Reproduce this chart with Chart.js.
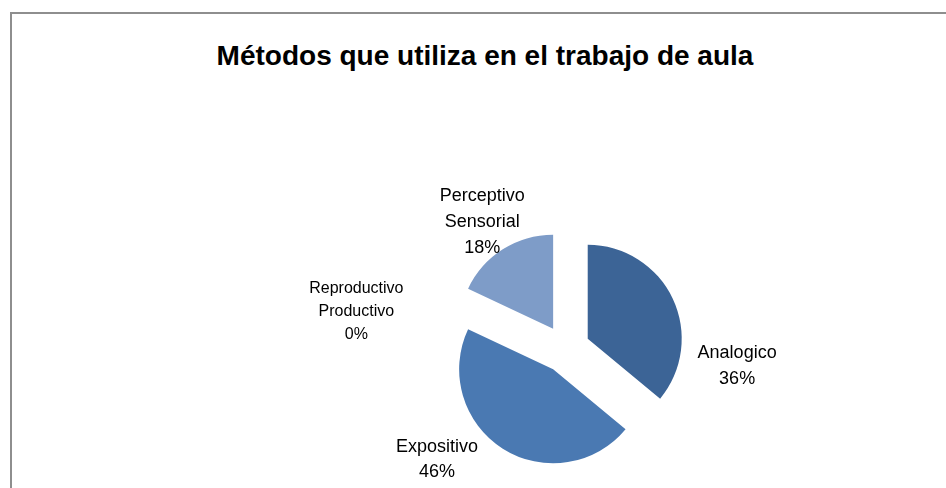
<!DOCTYPE html>
<html lang="es">
<head>
    <meta charset="UTF-8">
    <title>Métodos que utiliza en el trabajo de aula</title>
    <script src="https://cdn.jsdelivr.net/npm/chart.js@4.4.0/dist/chart.umd.min.js"></script>
    <style>
        html, body { margin: 0; padding: 0; background: #fff; }
        body { width: 946px; height: 488px; position: relative; overflow: hidden; }
        #frame {
            position: absolute; left: 10px; top: 12px; width: 980px; height: 520px;
            border-left: 2px solid #8e8e8e; border-top: 2px solid #8e8e8e;
        }
        #title {
            position: absolute; left: 10px; width: 950px; top: 40px; text-align: center;
            font-family: "Liberation Sans", Arial, sans-serif; font-weight: bold; font-size: 28px;
            color: #000;
        }
        #chart { position: absolute; left: 0; top: 0; }
    </style>
</head>
<body>
    <div id="frame"></div>
    <div id="title">Métodos que utiliza en el trabajo de aula</div>
    <canvas id="chart" width="946" height="488"></canvas>

    <script>
        // datos del grafico
        const categorias = [['Analogico'], ['Expositivo'], ['Reproductivo', 'Productivo'], ['Perceptivo', 'Sensorial']];
        const porcentajes = [36, 46, 0, 18];
        const colores = ['#3c6496', '#4a79b2', '#5b87bd', '#7e9cc8'];

        // separa cada porcion del centro (pastel explotado)
        const explode = {
            id: 'explode',
            afterDatasetsUpdate(chart, args, opts) {
                chart.getDatasetMeta(0).data.forEach(arc => {
                    const mid = (arc.startAngle + arc.endAngle) / 2;
                    arc.x += Math.cos(mid) * opts.distance;
                    arc.y += Math.sin(mid) * opts.distance;
                });
            }
        };

        // etiquetas de datos fuera del pastel
        const etiquetas = {
            id: 'etiquetas',
            afterDatasetsDraw(chart, args, opts) {
                const ctx = chart.ctx;
                const area = chart.chartArea;
                const cx = (area.left + area.right) / 2;
                const cy = (area.top + area.bottom) / 2;
                chart.getDatasetMeta(0).data.forEach((arc, i) => {
                    const mid = (arc.startAngle + arc.endAngle) / 2 + opts.shift[i] * Math.PI / 180;
                    const r = arc.outerRadius + opts.explode + opts.gap[i];
                    const x = cx + Math.cos(mid) * r;
                    const y = cy + Math.sin(mid) * r;
                    const lines = categorias[i].concat([porcentajes[i] + '%']);
                    const lh = opts.lineHeight[i];
                    ctx.save();
                    ctx.font = opts.size[i] + 'px "Liberation Sans", Arial, sans-serif';
                    ctx.fillStyle = '#000';
                    ctx.textAlign = 'center';
                    ctx.textBaseline = 'middle';
                    const top = y - (lines.length - 1) * lh / 2;
                    lines.forEach((t, k) => ctx.fillText(t, x, top + k * lh));
                    ctx.restore();
                });
            }
        };

        new Chart(document.getElementById('chart'), {
            type: 'pie',
            data: {
                labels: categorias,
                datasets: [{
                    data: porcentajes,
                    backgroundColor: colores,
                    borderWidth: 0,
                    radius: 94
                }]
            },
            options: {
                responsive: false,
                animation: false,
                events: [],
                layout: { padding: { left: 300, right: 114, top: 230, bottom: 20 } },
                plugins: {
                    legend: { display: false },
                    tooltip: { enabled: false },
                    explode: { distance: 24 },
                    etiquetas: {
                        explode: 24,
                        shift: [31, 17, -15, -1],
                        gap: [54, 52, 95, 34],
                        size: [18, 18, 16, 18],
                        lineHeight: [26, 25, 23, 26]
                    }
                }
            },
            plugins: [explode, etiquetas]
        });
    </script>
</body>
</html>
